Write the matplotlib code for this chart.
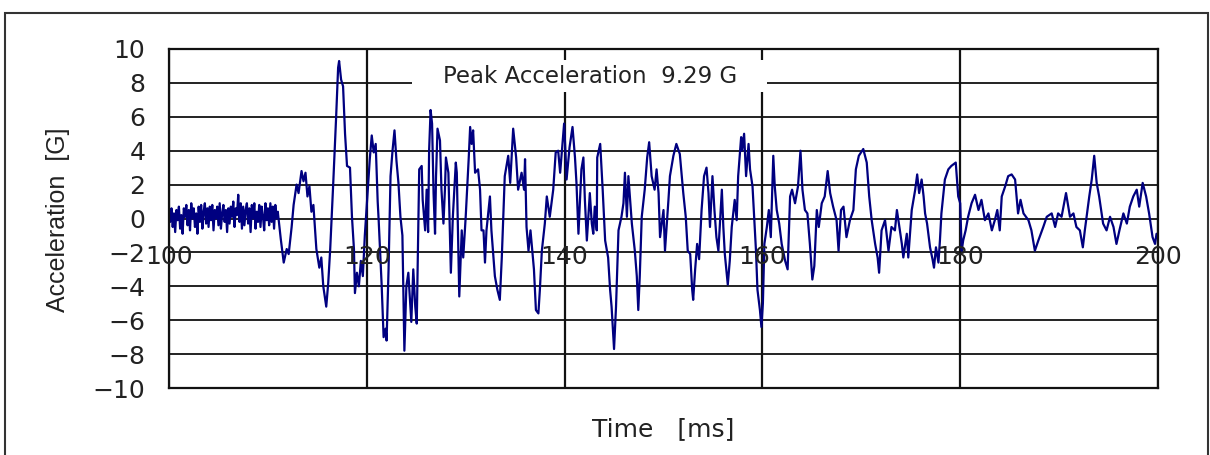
import matplotlib
matplotlib.use("Agg")
import matplotlib.pyplot as plt
import matplotlib.patches as mpatches

# acceleration trace, time in ms, acceleration in G
time_ms = [
    100.0, 100.125, 100.25, 100.375, 100.5, 100.625, 100.75, 100.875,
    101.0, 101.125, 101.25, 101.375, 101.5, 101.625, 101.75, 101.875,
    102.0, 102.125, 102.25, 102.375, 102.5, 102.625, 102.75, 102.875,
    103.0, 103.125, 103.25, 103.375, 103.5, 103.625, 103.75, 103.875,
    104.0, 104.125, 104.25, 104.375, 104.5, 104.625, 104.75, 104.875,
    105.0, 105.125, 105.25, 105.375, 105.5, 105.625, 105.75, 105.875,
    106.0, 106.125, 106.25, 106.375, 106.5, 106.625, 106.75, 106.875,
    107.0, 107.125, 107.25, 107.375, 107.5, 107.625, 107.75, 107.875,
    108.0, 108.125, 108.25, 108.375, 108.5, 108.625, 108.75, 108.875,
    109.0, 109.125, 109.25, 109.375, 109.5, 109.625, 109.75, 109.875,
    110.0, 110.125, 110.25, 110.375, 110.5, 110.625, 110.75, 110.875,
    111.0, 111.3, 111.6, 111.9, 112.1, 112.4,
    112.6, 112.9, 113.1, 113.4, 113.6, 113.8, 114.0, 114.2, 114.4, 114.6,
    114.9, 115.2, 115.4, 115.6, 115.9, 116.1, 116.3, 116.6, 116.9, 117.1,
    117.2, 117.4, 117.6, 117.8, 118.0, 118.3, 118.5, 118.7, 118.8, 119.0,
    119.2, 119.4, 119.6, 119.8, 120.1, 120.3, 120.5, 120.7, 120.9, 121.1,
    121.2, 121.5, 121.7, 121.9, 122.0, 122.2, 122.4, 122.6, 122.8, 123.0,
    123.2, 123.4, 123.6, 123.8, 124.0, 124.2, 124.5, 124.7, 124.9, 125.05,
    125.3, 125.55, 125.65, 125.9, 126.05, 126.2, 126.3, 126.45, 126.6, 126.75,
    126.9, 127.0, 127.15, 127.4, 127.55, 127.75, 127.9, 128.0, 128.25, 128.5,
    128.7, 129.0, 129.1, 129.2, 129.35, 129.5, 129.6, 129.75, 130.0, 130.3,
    130.45, 130.6, 130.75, 130.95, 131.25, 131.45, 131.6, 131.8, 131.95, 132.1,
    132.45, 132.6, 132.95, 133.2, 133.45, 133.65, 133.95, 134.3, 134.5, 134.8,
    135.1, 135.3, 135.65, 135.9, 136.0, 136.15, 136.35, 136.55, 136.9, 137.1,
    137.35, 137.5, 137.7, 138.0, 138.2, 138.5, 138.85, 139.1, 139.35, 139.55,
    139.95, 140.05, 140.2, 140.5, 140.8, 141.05, 141.2, 141.4, 141.7, 141.9,
    142.05, 142.25, 142.55, 142.75, 142.9, 143.05, 143.25, 143.3, 143.6, 143.85,
    144.1, 144.4, 144.6, 144.75, 145.0, 145.2, 145.45, 145.75, 145.95, 146.1,
    146.3, 146.45, 146.8, 147.1, 147.3, 147.45, 147.6, 147.8, 148.1, 148.35,
    148.55, 148.8, 149.1, 149.3, 149.5, 149.65, 150.0, 150.15, 150.5, 150.65,
    151.0, 151.3, 151.65, 151.85, 152.0, 152.25, 152.45, 152.7, 152.9, 153.0,
    153.2, 153.4, 153.6, 153.85, 154.1, 154.35, 154.55, 154.7, 154.95, 155.15,
    155.35, 155.55, 155.9, 156.05, 156.2, 156.5, 156.7, 156.9, 157.2, 157.4,
    157.55, 157.85, 157.95, 158.15, 158.35, 158.6, 158.75, 159.0, 159.2, 159.35,
    159.5, 159.75, 159.9, 160.05, 160.2, 160.45, 160.65, 160.85, 161.1, 161.25,
    161.45, 161.7, 161.95, 162.3, 162.55, 162.8, 163.0, 163.3, 163.6, 163.85,
    164.05, 164.3, 164.55, 164.8, 165.05, 165.25, 165.5, 165.7, 166.0, 166.3,
    166.6, 166.85, 167.15, 167.5, 167.7, 167.95, 168.2, 168.5, 168.85, 169.2,
    169.45, 169.75, 170.2, 170.55, 170.8, 171.05, 171.4, 171.65, 171.8, 172.05,
    172.4, 172.75, 173.05, 173.4, 173.6, 174.1, 174.25, 174.6, 174.75, 175.1,
    175.45, 175.65, 175.85, 176.1, 176.3, 176.45, 176.65, 176.95, 177.2, 177.35,
    177.55, 177.8, 177.95, 178.1, 178.45, 178.8, 179.1, 179.55, 179.8, 180.0,
    180.15, 180.3, 180.55, 180.8, 181.15, 181.5, 181.85, 182.15, 182.5, 182.85,
    183.2, 183.5, 183.75, 184.0, 184.2, 184.55, 184.85, 185.2, 185.55, 185.85,
    186.1, 186.4, 186.9, 187.2, 187.55, 187.9, 188.4, 188.75, 189.25, 189.6,
    189.9, 190.25, 190.7, 191.1, 191.45, 191.75, 192.1, 192.4, 192.6, 193.05,
    193.3, 193.55, 193.8, 194.05, 194.45, 194.8, 195.15, 195.5, 195.8, 196.1,
    196.5, 196.85, 197.15, 197.5, 197.85, 198.1, 198.45, 198.8, 199.1, 199.45,
    199.7, 199.85, 200.0,
]
accel_g = [
    0.4, -0.2, 0.6, -0.5, 0.3, -0.8, 0.5, -0.1,
    0.7, -0.6, 0.2, -0.9, 0.6, 0.1, 0.8, -0.4,
    0.5, -0.7, 0.9, 0.0, 0.6, -0.5, 0.3, -0.9,
    0.7, -0.2, 0.8, -0.6, 0.4, 0.9, -0.3, 0.6,
    -0.5, 0.7, -0.1, 0.8, -0.7, 0.5, 0.0, 0.7,
    -0.4, 0.9, -0.6, 0.3, 0.8, -0.2, 0.5, -0.8,
    0.6, -0.3, 0.7, 0.1, 1.0, -0.5, 0.6, 0.2,
    1.4, -0.2, 0.9, -0.6, 0.7, -0.4, 0.5, 0.9,
    -0.3, 0.6, -0.8, 0.8, 0.0, 0.9, -0.6, 0.4,
    -0.2, 0.8, -0.5, 0.7, 0.1, -0.7, 0.9, -0.1,
    0.6, -0.4, 0.9, -0.2, 0.7, -0.6, 0.8, 0.0,
    0.4, -1.2, -2.6, -1.8, -2.1, -0.5,
    0.8, 2.0, 1.5, 2.8, 2.2, 2.7, 1.3, 1.9, 0.4, 0.8,
    -1.8, -2.9, -2.3, -4.0, -5.2, -3.8, -1.8, 2.0, 6.0, 8.9,
    9.29, 8.2, 7.8, 5.0, 3.1, 3.0, 0.1, -1.8, -4.4, -3.2,
    -4.0, -2.5, -3.4, -1.0, 1.7, 3.5, 4.9, 3.9, 4.4, 1.0,
    -0.1, -3.9, -7.0, -6.5, -7.2, -3.0, 2.5, 4.0, 5.2, 3.4,
    2.1, 0.1, -1.0, -7.8, -4.0, -3.2, -6.1, -3.0, -5.2, -6.2,
    2.9, 3.1, 1.1, -0.7, 1.7, -0.8, 4.0, 6.4, 5.6, 1.5,
    -0.9, 2.5, 5.3, 4.6, 1.7, -0.3, 1.7, 3.6, 2.7, -3.2,
    0.1, 3.3, 2.7, -0.3, -4.6, -2.3, -0.7, -2.3, 0.1, 3.5,
    5.4, 4.4, 5.2, 2.7, 2.9, 1.7, -0.7, -0.7, -2.6, -0.7,
    1.3, -0.7, -3.4, -4.2, -4.8, -2.3, 2.5, 3.7, 2.1, 5.3,
    3.6, 1.7, 2.7, 1.7, 3.5, -0.5, -1.9, -0.7, -3.0, -5.4,
    -5.6, -4.2, -1.9, -0.3, 1.3, 0.1, 1.7, 3.9, 4.0, 2.7,
    5.6, 4.4, 2.3, 4.2, 5.4, 3.6, 2.1, -0.9, 2.9, 3.6,
    1.1, -1.3, 1.5, -0.3, -0.9, 0.7, -0.7, 3.6, 4.4, 1.7,
    -1.3, -2.3, -4.2, -5.2, -7.7, -5.2, -0.7, 0.1, 0.9, 2.7,
    0.1, 2.5, -0.3, -1.9, -3.4, -5.4, -3.4, 0.1, 1.7, 3.6,
    4.5, 2.5, 1.7, 2.9, 1.5, -1.1, 0.5, -1.9, 1.1, 2.5,
    3.7, 4.4, 3.8, 2.5, 1.5, 0.1, -1.9, -2.1, -4.2, -4.8,
    -3.0, -1.5, -2.4, 0.5, 2.5, 3.0, 1.5, -0.5, 2.5, 0.5,
    -1.1, -1.9, 1.7, -0.5, -2.1, -3.9, -2.5, -0.5, 1.1, -0.1,
    2.5, 4.8, 4.0, 5.0, 2.5, 4.4, 2.9, 1.9, -0.3, -1.9,
    -4.2, -5.4, -6.4, -5.0, -1.5, -0.5, 0.5, -1.1, 3.7, 1.9,
    0.5, -0.3, -1.5, -2.5, -3.0, 1.3, 1.7, 0.9, 1.9, 4.0,
    1.7, 0.5, 0.3, -1.5, -3.6, -2.8, 0.5, -0.5, 0.9, 1.3,
    2.8, 1.5, 0.7, -0.1, -1.9, 0.5, 0.7, -1.1, -0.1, 0.5,
    2.9, 3.7, 4.1, 3.3, 1.3, -0.1, -1.5, -2.3, -3.2, -0.7,
    -0.1, -1.9, -0.5, -0.7, 0.5, -1.5, -2.3, -0.9, -2.3, 0.5,
    1.7, 2.6, 1.5, 2.3, 1.3, 0.3, -0.3, -1.7, -2.4, -2.9,
    -1.7, -2.6, -1.3, 0.3, 2.3, 2.9, 3.1, 3.3, 1.3, 0.9,
    -1.9, -1.3, -0.7, 0.1, 0.9, 1.4, 0.5, 1.1, -0.1, 0.3,
    -0.7, -0.1, 0.5, -0.7, 1.3, 1.9, 2.5, 2.6, 2.3, 0.3,
    1.1, 0.3, -0.1, -0.7, -1.9, -1.3, -0.5, 0.1, 0.3, -0.5,
    0.3, 0.1, 1.5, 0.1, 0.3, -0.5, -0.7, -1.7, -0.7, 1.3,
    2.3, 3.7, 2.1, 1.3, -0.3, -0.7, 0.1, -0.5, -1.5, -0.7,
    0.3, -0.3, 0.7, 1.3, 1.7, 0.7, 2.1, 1.3, 0.3, -1.1,
    -1.5, -0.9, -1.2,
]

x_ticks = [100, 120, 140, 160, 180, 200]
y_ticks = [-10, -8, -6, -4, -2, 0, 2, 4, 6, 8, 10]

peak = max(accel_g)

plt.rcParams["font.family"] = "DejaVu Sans"
fig = plt.figure(figsize=(12.1, 4.55), dpi=100)
ax = fig.add_axes([169 / 1210, 67 / 455, 989 / 1210, 339 / 455])

ax.plot(time_ms, accel_g, color="#000080", lw=1.6, zorder=2)

ax.set_xlim(100, 200)
ax.set_ylim(-10, 10)
ax.set_yticks(y_ticks)
ax.set_xticks(x_ticks)
ax.set_xticklabels([])
ax.tick_params(axis="both", length=0)
ax.tick_params(axis="y", pad=17, labelsize=18, labelcolor="#222222")
ax.set_axisbelow(True)
ax.yaxis.grid(True, color="#111111", lw=1.3)
ax.xaxis.grid(True, color="#111111", lw=1.6)
for sp in ax.spines.values():
    sp.set_linewidth(1.6)
    sp.set_color("#111111")

# x labels sit on the -2 G line, as in the original logger printout
for t in x_ticks:
    ax.text(t, -2.68, str(t), ha="center", va="baseline", fontsize=18,
            color="#222222", zorder=4)

# title box over the top grid
ax.add_patch(mpatches.Rectangle((0.2457, 0.873), 0.359, 0.094, transform=ax.transAxes,
                                facecolor="white", edgecolor="none", zorder=3))
ax.text(0.4257, 0.899, "Peak Acceleration  %.2f G" % peak, transform=ax.transAxes,
        ha="center", va="baseline", fontsize=16.5, color="#222222", zorder=4)

fig.text(663 / 1210, 0.0418, "Time   [ms]", ha="center", va="baseline",
         fontsize=18, color="#222222")
fig.text(0.048, 0.5165, "Acceleration  [G]", ha="center", va="center", rotation=90,
         fontsize=18, family="Liberation Sans", color="#222222")

# outer frame of the printout
fig.patches.append(mpatches.Rectangle((5 / 1210, -0.05), 1203 / 1210, 1.0214,
                                      transform=fig.transFigure, fill=False,
                                      edgecolor="#333333", lw=1.5))

fig.savefig("out.png", dpi=100)
